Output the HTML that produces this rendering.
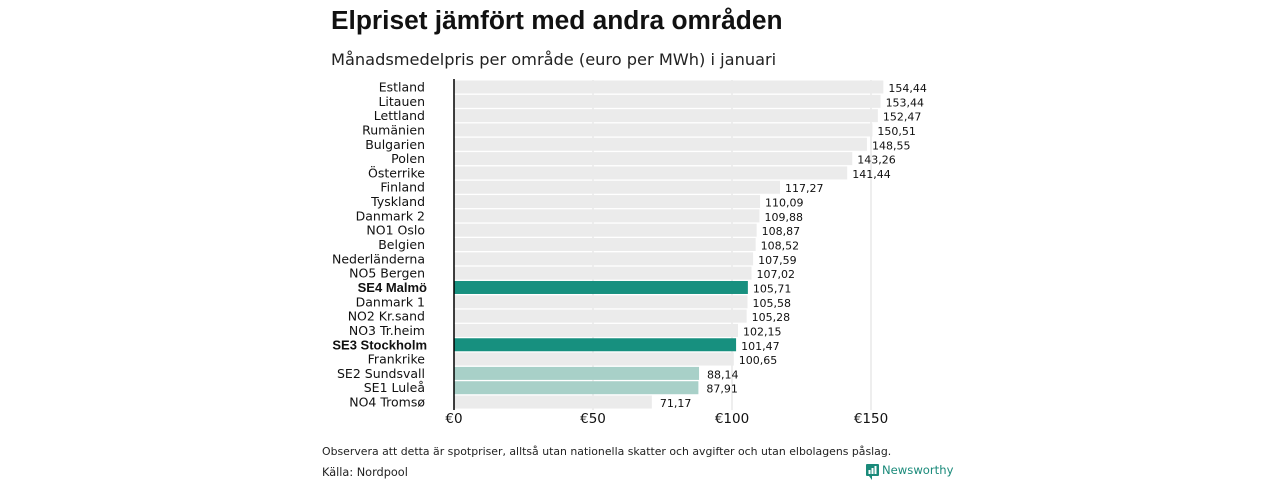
<!DOCTYPE html>
<html><head><meta charset="utf-8">
<style>
body{margin:0;width:1280px;height:480px;background:#fff;font-family:"Liberation Sans",sans-serif;overflow:hidden}
</style></head><body>
<svg width="1280" height="480">
<text x="331" y="29" font-size="26.3" font-weight="bold" fill="#111">Elpriset jämfört med andra områden</text>
<text x="331" y="65" font-size="16.2" font-family="DejaVu Sans" fill="#222">Månadsmedelpris per område (euro per MWh) i januari</text>
<g id="plot"></g>
<text x="322" y="455" font-size="10.9" font-family="DejaVu Sans" fill="#222">Observera att detta är spotpriser, alltså utan nationella skatter och avgifter och utan elbolagens påslag.</text>
<text x="322" y="476" font-size="11.3" font-family="DejaVu Sans" fill="#222">Källa: Nordpool</text>
<g>
<rect x="866" y="464" width="13" height="12" rx="1" fill="#1a8a7a"/>
<path d="M869 476 L872 480 L872 476 Z" fill="#1a8a7a"/>
<rect x="868.5" y="470" width="2" height="4" fill="#fff"/><rect x="871.5" y="468" width="2" height="6" fill="#fff"/><rect x="874.5" y="466" width="2" height="8" fill="#fff"/>
<text x="882" y="474" font-size="11.6" font-family="DejaVu Sans" fill="#1a8a7a">Newsworthy</text>
</g>
</svg>
<script>
const categories=["Estland","Litauen","Lettland","Rumänien","Bulgarien","Polen","Österrike","Finland","Tyskland","Danmark  2","NO1 Oslo","Belgien","Nederländerna","NO5 Bergen","SE4 Malmö","Danmark  1","NO2 Kr.sand","NO3 Tr.heim","SE3 Stockholm","Frankrike","SE2  Sundsvall","SE1  Luleå","NO4 Tromsø"];
const values=[154.44,153.44,152.47,150.51,148.55,143.26,141.44,117.27,110.09,109.88,108.87,108.52,107.59,107.02,105.71,105.58,105.28,102.15,101.47,100.65,88.14,87.91,71.17];
const groups=["o","o","o","o","o","o","o","o","o","o","o","o","o","o","se","o","o","o","se","o","sen","sen","o"];
const ticks=[0,50,100,150];
const tickLabels=["€0","€50","€100","€150"];
const NS="http://www.w3.org/2000/svg";
const g=document.getElementById('plot');
const x=v=>454+v*2.78;
const y=i=>87+i*14.32;
const colors={o:"#ebebeb",se:"#17907f",sen:"#a8d0c8"};
function el(t,a,p){const e=document.createElementNS(NS,t);for(const k in a)e.setAttribute(k,a[k]);(p||g).appendChild(e);return e;}
ticks.forEach((t,i)=>{
  if(t>0){const l=el('line',{x1:x(t),x2:x(t),y1:80,y2:410,stroke:"#ddd","stroke-width":1});
  
  }
  const tl=el('text',{x:x(t),y:423,"font-size":13.5,"font-family":"DejaVu Sans","text-anchor":"middle",fill:"#111"});
  tl.textContent=tickLabels[i];
  
  
});
categories.forEach((c,i)=>{
  const r=el('rect',{x:x(0),y:y(i)-6.5,width:x(values[i])-x(0),height:13,fill:colors[groups[i]]});
  
  
});
categories.forEach((c,i)=>{
  const bold=groups[i]==="se";
  const t=el('text',{x:bold?427:425,y:y(i)+4.5,"font-size":bold?13:12.5,"font-family":bold?"Liberation Sans":"DejaVu Sans","text-anchor":"end",fill:"#111","font-weight":bold?"bold":"normal"});
  t.textContent=c;
  
  
  const v=el('text',{x:x(values[i])+(groups[i]==="sen"||i===22?8:5),y:y(i)+5,"font-size":11,"font-family":"DejaVu Sans",fill:"#111"});
  v.textContent=values[i].toFixed(2).replace('.',',');
  
  
});
const ax=el('line',{x1:454,x2:454,y1:79,y2:410,stroke:"#000","stroke-width":1.5});


</script>
</body></html>
